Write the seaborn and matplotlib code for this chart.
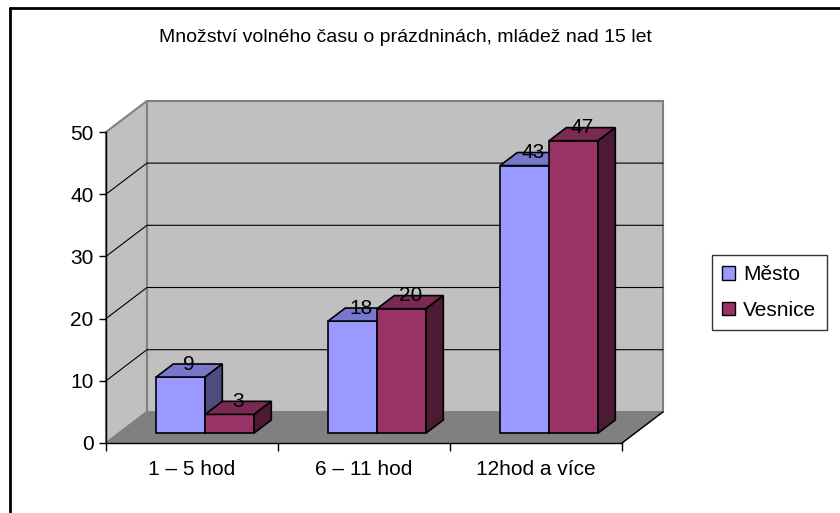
import matplotlib
matplotlib.use("Agg")
import pandas as pd
import matplotlib.pyplot as plt
import seaborn as sns
from matplotlib.patches import Polygon, Patch
from matplotlib.lines import Line2D

# data
title = "Množství volného času o prázdninách, mládež nad 15 let"
categories = ["1 – 5 hod", "6 – 11 hod", "12hod a více"]
series_names = ["Město", "Vesnice"]
mesto = [9, 18, 43]
vesnice = [3, 20, 47]
y_ticks = [0, 10, 20, 30, 40, 50]

front_colors = ["#9999FF", "#993366"]
top_colors = ["#7777CC", "#7A2952"]
side_colors = ["#4C4C80", "#4D1A33"]

df = pd.DataFrame({
    "kategorie": categories * 2,
    "skupina": [series_names[0]] * len(categories) + [series_names[1]] * len(categories),
    "hodnota": mesto + vesnice,
})

sns.set_style("white")
plt.rcParams["font.family"] = ["Liberation Sans", "DejaVu Sans"]
plt.rcParams["text.color"] = "black"
plt.rcParams["xtick.color"] = "black"
plt.rcParams["ytick.color"] = "black"
plt.rcParams["axes.labelcolor"] = "black"

W, H = 840, 513
fig = plt.figure(figsize=(W / 100, H / 100), dpi=100)
ax = fig.add_axes([106 / W, 70 / H, 516 / W, 311 / H])

sns.barplot(data=df, x="kategorie", y="hodnota", hue="skupina", palette=front_colors,
            width=0.57, saturation=1, ax=ax, legend=False,
            edgecolor="black", linewidth=1.2)
bars = list(ax.patches)

ax.set_xlim(-0.5, 2.5)
ax.set_ylim(0, 50)

# pseudo 3D box depth (data units)
DX, DY = 0.238, 5.0
F0, F1 = 0.32, 0.74
x0, x1 = -0.5, 2.5
ytop = y_ticks[-1]

# walls and floor
ax.add_patch(Polygon([(x0 + DX, DY), (x1 + DX, DY), (x1 + DX, ytop + DY), (x0 + DX, ytop + DY)],
                     closed=True, fc="#C0C0C0", ec="#808080", lw=1.5, zorder=0, clip_on=False))
ax.add_patch(Polygon([(x0, 0), (x0 + DX, DY), (x0 + DX, ytop + DY), (x0, ytop)],
                     closed=True, fc="#C0C0C0", ec="#808080", lw=1.5, zorder=0, clip_on=False))
ax.add_patch(Polygon([(x0, 0), (x1, 0), (x1 + DX, DY), (x0 + DX, DY)],
                     closed=True, fc="#808080", ec="#808080", lw=1, zorder=0.5, clip_on=False))
ax.plot([x1, x1 + DX], [0, DY], color="black", lw=1, zorder=1, clip_on=False)
for t in y_ticks[1:-1]:
    ax.plot([x0, x0 + DX, x1 + DX], [t, t + DY, t + DY], color="black", lw=0.8,
            zorder=1, clip_on=False)

# turn flat bars into boxes
n = len(categories)
bdx, bdy = (F1 - F0) * DX, (F1 - F0) * DY
for i, bar in enumerate(bars):
    s = i // n
    w = bar.get_width()
    h = bar.get_height()
    x = bar.get_x() + F0 * DX
    y = F0 * DY
    z = 3 + i * 0.1
    bar.set_x(x)
    bar.set_y(y)
    bar.set_zorder(z)
    ax.add_patch(Polygon([(x, y + h), (x + w, y + h), (x + w + bdx, y + h + bdy), (x + bdx, y + h + bdy)],
                         closed=True, fc=top_colors[s], ec="black", lw=1.2, zorder=z, clip_on=False))
    ax.add_patch(Polygon([(x + w, y), (x + w, y + h), (x + w + bdx, y + h + bdy), (x + w + bdx, y + bdy)],
                         closed=True, fc=side_colors[s], ec="black", lw=1.2, zorder=z, clip_on=False))
    ax.text(x + w / 2 + bdx / 2, y + h + bdy / 2 + 1.0, f"{h:g}", ha="center", va="center",
            fontsize=15, zorder=10, clip_on=False)

# axes
ax.set_xlabel("")
ax.set_ylabel("")
ax.set_yticks(y_ticks)
ax.set_xticks(range(n))
ax.set_xticklabels(categories)
ax.set_xticks([k - 0.5 for k in range(n + 1)], minor=True)
ax.tick_params(axis="y", left=True, length=5, width=1, color="black", labelsize=15, pad=4)
ax.tick_params(axis="x", which="major", bottom=False, length=0, labelsize=15, pad=12)
ax.tick_params(axis="x", which="minor", bottom=True, length=6, width=1, color="black")
for side in ["top", "right"]:
    ax.spines[side].set_visible(False)
for side in ["left", "bottom"]:
    ax.spines[side].set_color("black")
    ax.spines[side].set_linewidth(1)
ax.patch.set_visible(False)

# legend
handles = [Patch(facecolor=c, edgecolor="black", lw=1) for c in front_colors]
leg = fig.legend(handles, series_names, loc="upper left", bbox_to_anchor=(712 / W, 1 - 255 / H),
                 frameon=True, fancybox=False, edgecolor="black", fontsize=15,
                 handlelength=0.6, handleheight=0.6, handletextpad=0.4,
                 labelspacing=0.8, borderpad=0.5, borderaxespad=0)
leg.get_frame().set_linewidth(1)

# title and outer frame
fig.text(405 / W, 1 - 38 / H, title, ha="center", va="center", fontsize=14)
fig.add_artist(Line2D([10 / W, 10 / W], [0, 1 - 8 / H], transform=fig.transFigure, color="black", lw=2))
fig.add_artist(Line2D([10 / W, 1], [1 - 8 / H, 1 - 8 / H], transform=fig.transFigure, color="black", lw=2))

fig.savefig("out.png", dpi=100, facecolor="white")
